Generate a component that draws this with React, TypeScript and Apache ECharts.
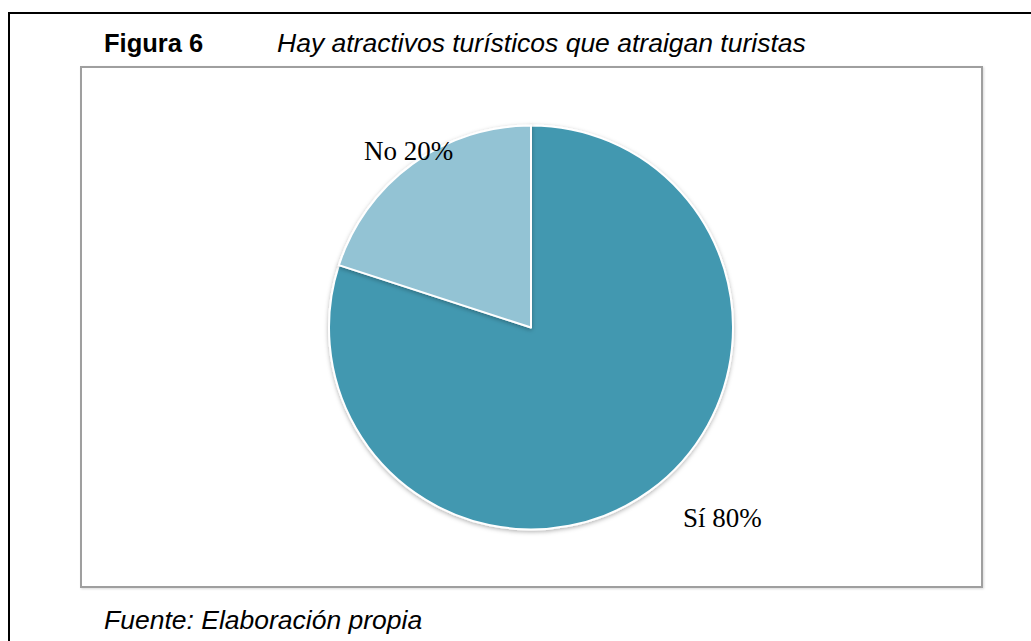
import React, { useEffect, useRef } from "react";
import * as echarts from "echarts";

const categories = ["Sí", "No"];
const values = [80, 20];
const colors = ["#4398B0", "#93C3D4"];
const titleBold = "Figura 6";
const titleItalic = "Hay atractivos turísticos que atraigan turistas";
const sourceText = "Fuente: Elaboración propia";

export default function App() {
  const ref = useRef<HTMLDivElement>(null);
  useEffect(() => {
    if (!ref.current) return;
    const chart = echarts.init(ref.current, null, { renderer: "svg" });
    const labelPos: Record<number, [number, number]> = { 0: [683, 518], 1: [364, 151] };
    chart.setOption({
      animation: false,
      backgroundColor: "#ffffff",
      graphic: [
        {
          type: "rect",
          shape: { x: 9, y: 13, width: 1040, height: 700 },
          style: { fill: "none", stroke: "#000000", lineWidth: 2 },
          silent: true,
        },
        {
          type: "rect",
          shape: { x: 81, y: 67, width: 901, height: 520 },
          style: {
            fill: "#ffffff",
            stroke: "#9f9f9f",
            lineWidth: 2,
            shadowBlur: 2,
            shadowColor: "rgba(0,0,0,0.15)",
            shadowOffsetX: 1,
            shadowOffsetY: 1,
          },
          silent: true,
        },
        {
          type: "text",
          x: 104,
          y: 56,
          style: {
            text: titleBold,
            font: "bold 25.5px 'Liberation Sans', Arial, sans-serif",
            fill: "#000000",
            verticalAlign: "bottom",
          },
        },
        {
          type: "text",
          x: 277,
          y: 56.5,
          style: {
            text: titleItalic,
            font: "italic 26.5px 'Liberation Sans', Arial, sans-serif",
            fill: "#000000",
            verticalAlign: "bottom",
          },
        },
        {
          type: "text",
          x: 104,
          y: 633.5,
          style: {
            text: sourceText,
            font: "italic 26.5px 'Liberation Sans', Arial, sans-serif",
            fill: "#000000",
            verticalAlign: "bottom",
          },
        },
      ],
      series: [
        {
          type: "pie",
          center: [531, 327.5],
          radius: [0, 202],
          startAngle: 90,
          clockwise: true,
          z: 10,
          data: categories.map((c, i) => ({
            name: c,
            value: values[i],
            itemStyle: { color: colors[i] },
          })),
          itemStyle: {
            borderColor: "#ffffff",
            borderWidth: 2,
            shadowBlur: 4,
            shadowOffsetY: 1.5,
            shadowColor: "rgba(0,0,0,0.3)",
          },
          label: {
            show: true,
            position: "outside",
            formatter: "{b} {d}%",
            fontFamily: "'Liberation Serif', 'DejaVu Serif', serif",
            fontSize: 27,
            color: "#000000",
          },
          labelLine: { show: false },
          labelLayout: (params: any) => {
            const p = labelPos[params.dataIndex];
            return { x: p[0], y: p[1], align: "left", verticalAlign: "middle" };
          },
          emphasis: { disabled: true },
        },
      ],
    });
    return () => chart.dispose();
  }, []);
  return (
    <div
      ref={ref}
      style={{ position: "fixed", left: 0, top: 0, width: 1031, height: 641 }}
    />
  );
}
